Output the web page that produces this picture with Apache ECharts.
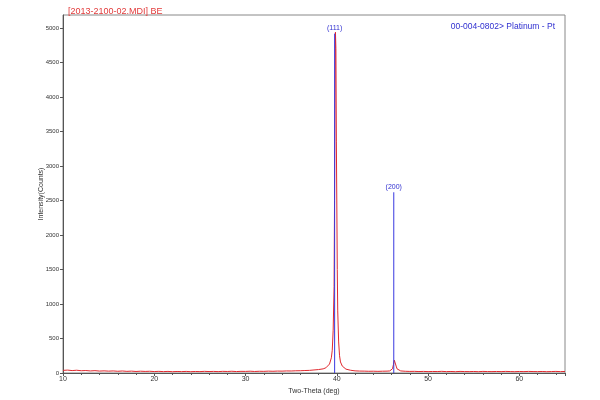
<!DOCTYPE html>
<html><head><meta charset="utf-8">
<script src="https://cdn.jsdelivr.net/npm/echarts@6/dist/echarts.min.js"></script>
<style>html,body{margin:0;padding:0;background:#fff}#c{width:600px;height:400px}</style>
</head><body><div id="c"></div>
<script>
// Measured pattern (two-theta in degrees, intensity in counts)
var twoTheta = [
 10,10.5,11,11.5,12,12.5,13,13.5,14,14.5,15,15.5,16,16.5,17,17.5,18,18.5,19,19.5,
 20,20.5,21,21.5,22,22.5,23,23.5,24,24.5,25,25.5,26,26.5,27,27.5,28,28.5,29,29.5,
 30,30.5,31,31.5,32,32.5,33,33.5,34,34.5,35,35.5,36,36.5,37,37.5,
 38,38.5,38.8,39,39.2,39.4,39.5,39.6,39.7,39.75,39.8,39.85,39.9,39.95,40,40.05,40.1,40.2,40.3,40.4,40.6,40.8,41,41.5,42,
 42.5,43,43.5,44,44.5,45,45.5,
 45.8,46,46.1,46.2,46.3,46.35,46.4,46.5,46.6,46.8,47,
 47.5,48,48.5,49,49.5,50,50.5,51,51.5,52,52.5,53,53.5,54,54.5,55,55.5,56,56.5,57,
 57.5,58,58.5,59,59.5,60,60.5,61,61.5,62,62.5,63,63.5,64,64.5,65
];
var intensity = [
 38,42,35,40,33,36,30,34,28,31,27,30,25,29,24,27,22,26,23,25,
 21,24,20,23,19,22,20,23,19,22,20,24,21,23,20,24,22,25,21,24,
 23,26,22,25,24,27,25,28,27,30,29,32,33,36,38,44,
 50,60,75,95,130,220,330,620,1250,2500,4000,4940,4700,3350,2450,1500,900,450,250,160,100,72,56,40,31,
 28,27,25,26,24,26,27,
 30,42,62,120,185,192,160,100,60,38,30,
 25,23,24,21,23,20,22,21,24,20,22,19,23,21,20,22,19,23,21,20,
 22,20,23,21,19,22,20,23,21,20,22,19,21,23,20,22
];
// Reference pattern 00-004-0802 Platinum
var refPos = [39.76, 46.24];
var refInt = [4920, 2620];
var refHkl = ['(111)', '(200)'];
var yTicks = [0,500,1000,1500,2000,2500,3000,3500,4000,4500,5000];

var measured = twoTheta.map(function(t,i){return [t, intensity[i]];});
var sticks = refPos.map(function(p,i){
  return {
    type:'line', silent:true, symbol:'circle', symbolSize:0, showAllSymbol:true, animation:false, z:4,
    lineStyle:{color:'#3838e0', width:1},
    data:[{value:[p,0], label:{show:false}},
          {value:[p,refInt[i]], label:{show:true, position:'top', formatter:refHkl[i], color:'#3030d0', fontSize:7, distance:2, fontFamily:'Liberation Sans'}}]
  };
});

var chart = echarts.init(document.getElementById('c'), null, {renderer:'canvas'});
chart.setOption({
  animation:false,
  title:[
    {text:'[2013-2100-02.MDI] BE', left:63, top:2, textStyle:{color:'#e23a3a', fontSize:9, fontWeight:'normal', fontFamily:'Liberation Sans'}},
    {text:'00-004-0802> Platinum - Pt', right:40, top:17, textStyle:{color:'#2f2fd0', fontSize:8.5, fontWeight:'normal', fontFamily:'Liberation Sans'}}
  ],
  grid:{left:63, right:35, top:15, bottom:27, show:true, borderColor:'#888', borderWidth:1},
  xAxis:{type:'value', min:10, max:65, interval:10,
    name:'Two-Theta (deg)', nameLocation:'middle', nameGap:13,
    nameTextStyle:{fontSize:7, color:'#333', fontFamily:'Liberation Sans'},
    axisLine:{lineStyle:{color:'#555'}},
    axisTick:{length:3, lineStyle:{color:'#555'}},
    minorTick:{show:true, splitNumber:5, length:2, lineStyle:{color:'#555'}},
    axisLabel:{fontSize:7, color:'#333', margin:3, showMaxLabel:false, fontFamily:'Liberation Sans'},
    splitLine:{show:false}},
  yAxis:{type:'value', min:0, max:5190, interval:500,
    name:'Intensity(Counts)', nameLocation:'middle', nameGap:18, nameMoveOverlap:false,
    nameTextStyle:{fontSize:7, color:'#333', fontFamily:'Liberation Sans'},
    axisLine:{show:true, lineStyle:{color:'#555'}},
    axisTick:{show:true, length:3, lineStyle:{color:'#555'}},
    axisLabel:{fontSize:6, color:'#333', margin:4, showMaxLabel:false, fontFamily:'Liberation Sans',
      formatter:function(v){return yTicks.indexOf(v)>=0 ? String(v) : '';}},
    splitLine:{show:false}},
  series:[{type:'line', symbol:'none', data:measured, lineStyle:{color:'#e0282e', width:1}, z:2}].concat(sticks)
});
</script></body></html>
